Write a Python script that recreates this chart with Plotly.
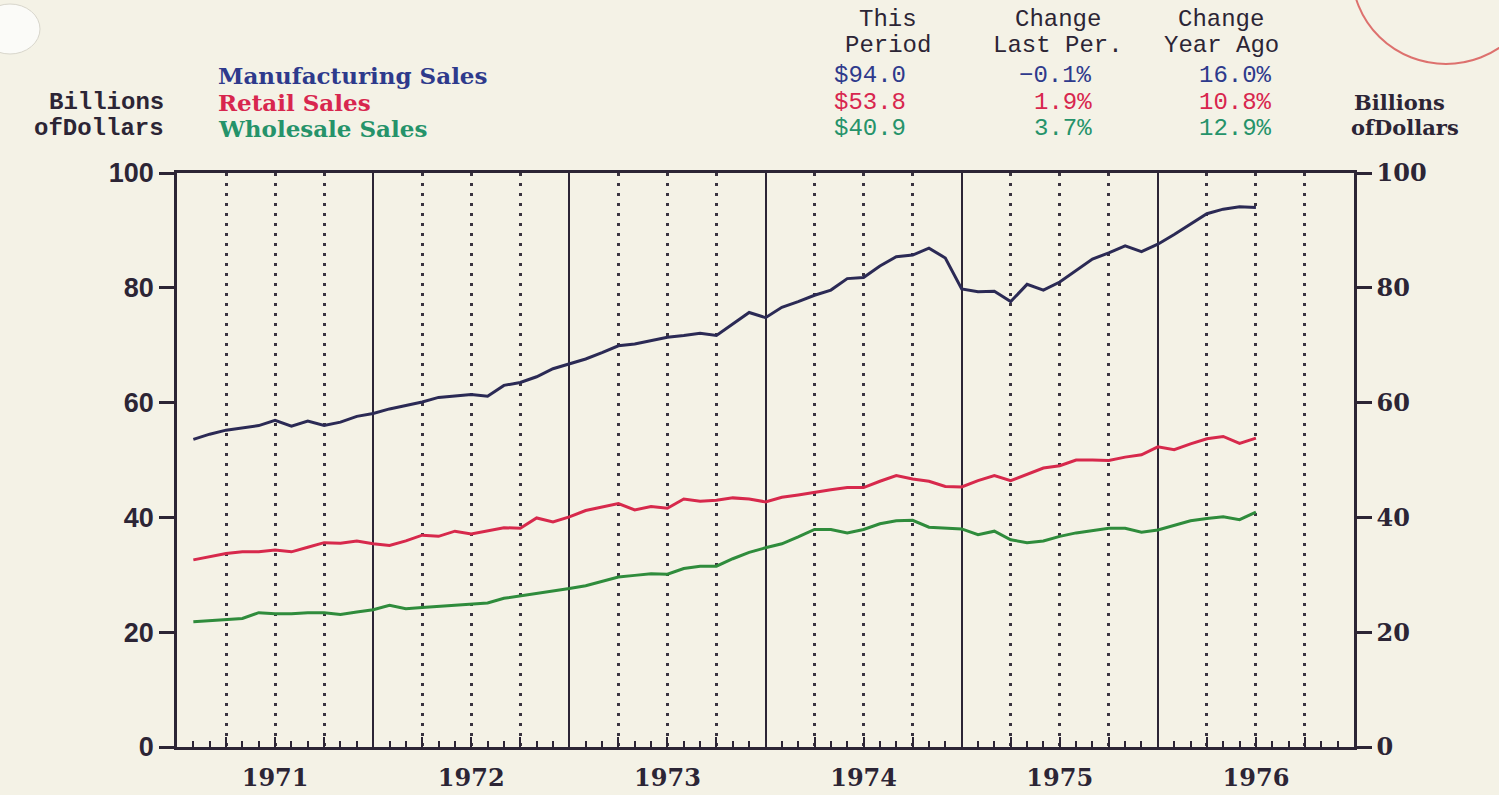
import numpy as np
import plotly.graph_objects as go

# ---------------- data ----------------
start_year = 1971
month_index = list(range(1, 67))  # end of month, Jan 1971 .. Jun 1976
manufacturing = [53.6, 54.5, 55.2, 55.6, 56.0, 56.9, 55.9, 56.8, 56.0, 56.6, 57.6, 58.1,
                 58.9, 59.5, 60.1, 60.9, 61.2, 61.4, 61.1, 63.0, 63.5, 64.5, 65.9, 66.8,
                 67.6, 68.7, 69.9, 70.2, 70.8, 71.4, 71.7, 72.1, 71.7, 73.7, 75.7, 74.8,
                 76.6, 77.6, 78.7, 79.6, 81.6, 81.8, 83.8, 85.4, 85.7, 86.9, 85.2, 79.8,
                 79.3, 79.4, 77.6, 80.6, 79.6, 81.0, 83.0, 85.0, 86.1, 87.3, 86.3, 87.6,
                 89.3, 91.1, 92.9, 93.7, 94.1, 94.0]
retail = [32.6, 33.2, 33.7, 34.0, 34.0, 34.3, 34.0, 34.8, 35.6, 35.5, 35.9, 35.4,
          35.1, 35.9, 36.9, 36.7, 37.6, 37.1, 37.6, 38.2, 38.1, 39.9, 39.2, 40.1,
          41.2, 41.8, 42.4, 41.3, 41.9, 41.6, 43.2, 42.8, 43.0, 43.4, 43.2, 42.7,
          43.5, 43.9, 44.4, 44.8, 45.2, 45.2, 46.3, 47.3, 46.7, 46.3, 45.4, 45.3,
          46.4, 47.3, 46.4, 47.5, 48.6, 49.0, 50.0, 50.0, 49.9, 50.5, 50.9, 52.3,
          51.8, 52.8, 53.7, 54.1, 52.9, 53.8]
wholesale = [21.8, 22.0, 22.2, 22.4, 23.4, 23.2, 23.2, 23.4, 23.4, 23.1, 23.5, 23.9,
             24.7, 24.1, 24.3, 24.5, 24.7, 24.9, 25.1, 25.9, 26.3, 26.7, 27.2, 27.6,
             28.1, 28.9, 29.6, 29.9, 30.2, 30.1, 31.1, 31.5, 31.5, 32.8, 33.9, 34.7,
             35.4, 36.6, 37.9, 37.9, 37.3, 37.9, 38.9, 39.4, 39.5, 38.3, 38.2, 38.0,
             37.0, 37.6, 36.1, 35.6, 35.9, 36.7, 37.3, 37.7, 38.1, 38.1, 37.4, 37.8,
             38.6, 39.4, 39.8, 40.1, 39.6, 40.9]

series_names = ["Manufacturing Sales", "Retail Sales", "Wholesale Sales"]
this_period = ["$94.0", "$53.8", "$40.9"]
change_last = ["\u22120.1%", "1.9%", "3.7%"]
change_year = ["16.0%", "10.8%", "12.9%"]
year_labels = ["1971", "1972", "1973", "1974", "1975", "1976"]
y_ticks = [0, 20, 40, 60, 80, 100]

# ---------------- style ----------------
BG = "#f4f2e6"
AX = "#2c2535"
line_colors = ["#2b2a55", "#d7294c", "#2f8c3c"]
text_colors = ["#2e3a8c", "#d8264e", "#25936a"]
MONO = "Liberation Mono"
SERIF = "DejaVu Serif"

x = np.array([start_year + m / 12 for m in month_index])
n_years = len(year_labels)
year_bounds = [start_year + k for k in range(n_years + 1)]
quarters = [start_year + k + q / 4 for k in range(n_years) for q in (1, 2, 3)]
months_all = [start_year + k / 12 for k in range(n_years * 12 + 1)]
month_text = []
for k in range(n_years * 12 + 1):
    if k % 12 == 6:
        month_text.append("<b>" + year_labels[k // 12] + "</b>")
    else:
        month_text.append("")

fig = go.Figure()
fig.add_trace(go.Scatter(x=x, y=manufacturing, mode="lines", name=series_names[0],
                         line=dict(color=line_colors[0], width=3)))
fig.add_trace(go.Scatter(x=x, y=retail, mode="lines", name=series_names[1],
                         line=dict(color=line_colors[1], width=3), xaxis="x2"))
fig.add_trace(go.Scatter(x=x, y=wholesale, mode="lines", name=series_names[2],
                         line=dict(color=line_colors[2], width=3), yaxis="y2"))

L, R, T, B = 177, 145, 173, 48
W, H = 1499, 795
pw, ph = W - L - R, H - T - B


def px(xp):
    return (xp - L) / pw


def py(yp):
    return (H - B - yp) / ph


ann = []
# left unit label
ann.append(dict(text="<b>Billions</b>", x=px(166), y=py(102), xanchor="right", yanchor="middle",
                font=dict(family=MONO, size=24, color=AX)))
ann.append(dict(text="<b>ofDollars</b>", x=px(166), y=py(128), xanchor="right", yanchor="middle",
                font=dict(family=MONO, size=24, color=AX)))
# right unit label
ann.append(dict(text="<b>Billions</b>", x=px(1352), y=py(103), xanchor="left", yanchor="middle",
                font=dict(family=SERIF, size=21, color=AX)))
ann.append(dict(text="<b>ofDollars</b>", x=px(1349), y=py(127), xanchor="left", yanchor="middle",
                font=dict(family=SERIF, size=21, color=AX)))
# legend names and table values
rows_y = [75, 102, 129]
for i in range(3):
    ann.append(dict(text="<b>" + series_names[i] + "</b>", x=px(216), y=py(rows_y[i]),
                    xanchor="left", yanchor="middle",
                    font=dict(family=SERIF, size=23, color=text_colors[i])))
    ann.append(dict(text=this_period[i], x=px(832), y=py(rows_y[i]), xanchor="left", yanchor="middle",
                    font=dict(family=MONO, size=24, color=text_colors[i])))
    ann.append(dict(text=change_last[i], x=px(1094), y=py(rows_y[i]), xanchor="right", yanchor="middle",
                    font=dict(family=MONO, size=24, color=text_colors[i])))
    ann.append(dict(text=change_year[i], x=px(1274), y=py(rows_y[i]), xanchor="right", yanchor="middle",
                    font=dict(family=MONO, size=24, color=text_colors[i])))
# column headers
headers = [("This", "Period", 888), ("Change", "Last Per.", 1058), ("Change", "Year Ago", 1221)]
for h1, h2, cx in headers:
    ann.append(dict(text=h1, x=px(cx), y=py(19), xanchor="center", yanchor="middle",
                    font=dict(family=MONO, size=24, color=AX)))
    ann.append(dict(text=h2, x=px(cx), y=py(46), xanchor="center", yanchor="middle",
                    font=dict(family=MONO, size=24, color=AX)))
for a in ann:
    a.update(xref="paper", yref="paper", showarrow=False)

shapes = [
    # stamp arc top right
    dict(type="circle", xref="paper", yref="paper", x0=px(1352), x1=px(1540), y0=py(64), y1=py(-120),
         line=dict(color="rgba(214,70,70,0.75)", width=2), layer="below"),
    # hole punch
    dict(type="circle", xref="paper", yref="paper", x0=px(-20), x1=px(40), y0=py(54), y1=py(4),
         fillcolor="#fbfbf8", line=dict(color="#d8d6cc", width=1), layer="below"),
]

left_font = dict(family="Liberation Sans", size=27, color=AX, weight="bold")
right_font = dict(family=SERIF, size=24, color=AX, weight="bold")
fig.update_layout(
    width=W, height=H,
    margin=dict(l=L, r=R, t=T, b=B, autoexpand=False),
    paper_bgcolor=BG, plot_bgcolor=BG,
    showlegend=False,
    annotations=ann, shapes=shapes,
    xaxis=dict(range=[year_bounds[0], year_bounds[-1]], tickvals=year_bounds, ticks="",
               showticklabels=False, showgrid=True, gridcolor=AX, gridwidth=2,
               showline=True, linecolor=AX, linewidth=2.5, mirror=True, zeroline=False,
               automargin=False,
               minor=dict(tickvals=quarters, showgrid=True, griddash="3px,7px", gridcolor="#3a3440",
                          gridwidth=2.5, ticks="inside", ticklen=10, tickwidth=2, tickcolor=AX)),
    xaxis2=dict(range=[year_bounds[0], year_bounds[-1]], overlaying="x", side="bottom",
                tickvals=months_all, ticktext=month_text, ticks="inside", ticklen=6,
                tickwidth=2, tickcolor=AX, showgrid=False, zeroline=False, showline=False,
                automargin=False, ticklabelstandoff=14,
                tickfont=dict(family=SERIF, size=24, color=AX)),
    yaxis=dict(range=[0, 100], tickvals=y_ticks, ticks="outside", ticklen=15, tickwidth=2.5,
               tickcolor=AX, showgrid=False, zeroline=False, showline=True, linecolor=AX,
               linewidth=2.5, tickfont=left_font, automargin=False),
    yaxis2=dict(range=[0, 100], tickvals=y_ticks, overlaying="y", side="right", ticks="outside",
                ticklen=15, tickwidth=2.5, tickcolor=AX, showgrid=False, zeroline=False,
                showline=True, linecolor=AX, linewidth=2.5, tickfont=right_font, automargin=False),
)

fig.write_html("out.html",
               config={"displayModeBar": False},
               post_script="document.body.style.margin='0px';"
                           "document.body.style.background='" + BG + "';")
